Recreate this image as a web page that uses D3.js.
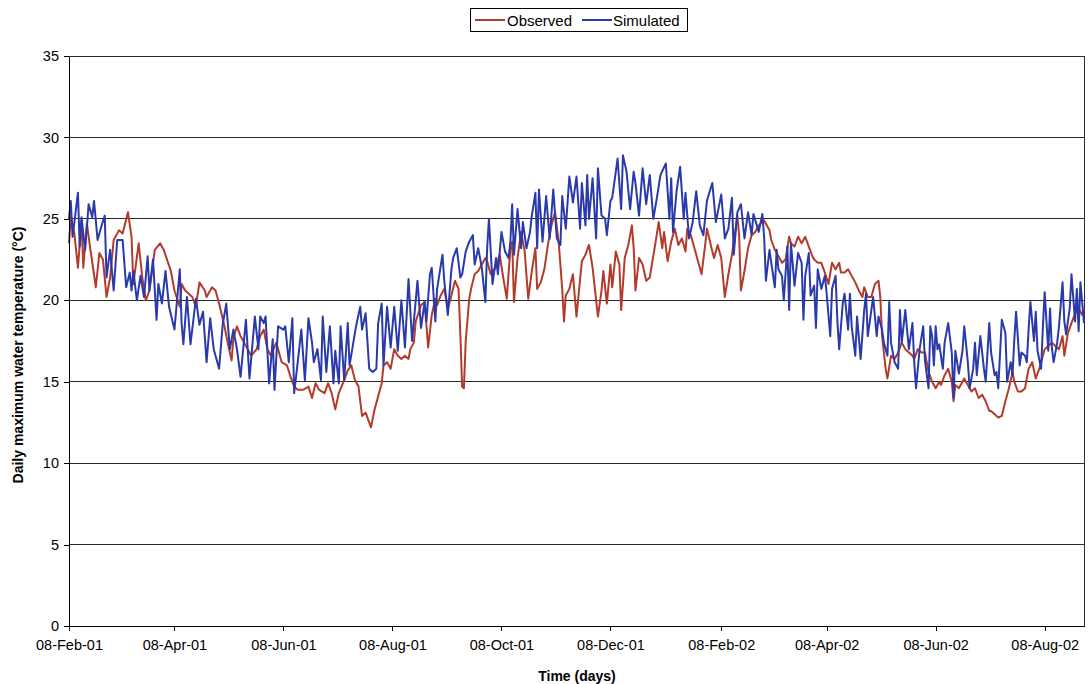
<!DOCTYPE html>
<html><head><meta charset="utf-8">
<script src="https://cdn.jsdelivr.net/npm/d3@7"></script>
<style>
body{margin:0;background:#fff}
text{font-family:"Liberation Sans",Arial,sans-serif;fill:#000}
</style>
</head><body>
<svg id="chart" width="1090" height="684"></svg>
<script>
const startDate = "2001-02-08";
const lastDay = 568;
const yTickValues = [0,5,10,15,20,25,30,35];
const xTickLabels = ["08-Feb-01","08-Apr-01","08-Jun-01","08-Aug-01","08-Oct-01","08-Dec-01","08-Feb-02","08-Apr-02","08-Jun-02","08-Aug-02"];
const seriesNames = ["Observed","Simulated"];
const xTitle = "Time (days)";
const yTitle = "Daily maximum water temperature (°C)";

// [day since 08-Feb-01, °C]
const observed = [[0,23.5],[1,25.1],[3,24.1],[5,22.0],[7,24.9],[8,22.0],[10,24.7],[12,23.1],[15,20.8],[17,22.9],[19,22.5],[21,20.2],[23,21.4],[25,23.7],[28,24.3],[30,24.1],[33,25.4],[35,23.9],[36,21.0],[39,23.5],[41,21.4],[43,20.0],[45,20.6],[48,23.1],[51,23.5],[53,23.1],[57,21.8],[59,20.6],[62,19.6],[63,21.0],[65,20.6],[67,20.4],[69,20.2],[71,19.6],[73,21.1],[76,20.6],[77,20.2],[80,20.8],[82,20.6],[84,19.8],[87,18.4],[89,17.3],[91,16.3],[92,17.7],[94,18.4],[96,17.8],[98,17.4],[102,16.6],[105,17.0],[107,17.8],[109,18.2],[111,17.0],[113,16.6],[116,17.4],[119,16.2],[122,16.0],[124,15.3],[126,14.7],[128,14.5],[131,14.5],[134,14.7],[136,14.0],[138,14.9],[140,14.5],[143,14.3],[145,14.9],[147,14.3],[149,13.3],[151,14.3],[154,15.1],[156,15.7],[158,16.0],[160,15.1],[162,14.7],[164,12.9],[166,13.1],[169,12.2],[171,13.3],[173,14.1],[175,14.9],[176,16.0],[178,16.2],[180,15.8],[182,17.0],[184,16.6],[186,16.4],[188,16.6],[190,16.4],[191,17.0],[193,17.4],[194,18.7],[197,19.7],[199,19.9],[201,17.1],[203,19.1],[205,20.1],[206,19.7],[208,20.3],[210,20.7],[212,19.5],[214,20.3],[216,21.2],[218,20.7],[219,17.9],[220,14.7],[221,14.6],[222,17.5],[224,20.1],[225,20.7],[227,21.6],[229,21.8],[231,22.2],[233,22.6],[234,22.4],[236,21.6],[237,21.8],[239,22.0],[241,22.8],[243,21.4],[245,20.1],[247,23.2],[248,23.6],[249,19.9],[251,22.6],[253,24.2],[255,23.0],[257,20.1],[259,21.8],[261,23.2],[262,20.7],[264,21.1],[266,21.9],[268,23.4],[270,24.6],[272,25.4],[274,23.6],[276,20.7],[277,18.7],[278,20.3],[280,20.7],[282,21.6],[284,19.0],[287,22.4],[289,22.8],[291,23.4],[293,22.0],[296,19.0],[298,20.6],[299,21.8],[301,19.8],[303,22.2],[304,20.8],[306,23.0],[308,22.2],[309,19.4],[311,22.6],[313,23.4],[315,24.6],[316,23.2],[317,20.6],[319,22.6],[321,22.2],[323,21.2],[325,21.4],[328,23.4],[330,24.8],[332,23.2],[333,24.2],[335,22.4],[337,23.6],[339,24.4],[341,23.4],[343,23.8],[345,23.0],[346,24.4],[348,24.0],[350,23.2],[352,22.4],[354,21.6],[356,23.4],[357,24.4],[360,23.0],[361,22.6],[363,23.4],[365,22.6],[367,20.2],[369,21.6],[371,22.8],[374,25.2],[375,24.0],[376,20.6],[378,21.8],[380,23.2],[382,24.0],[384,24.2],[386,24.6],[388,24.8],[389,24.9],[392,24.3],[393,23.7],[395,23.1],[397,22.7],[399,22.3],[401,22.5],[403,23.9],[404,23.5],[406,23.3],[408,23.9],[410,23.5],[412,23.9],[414,23.3],[416,22.7],[417,22.5],[419,22.3],[421,22.3],[423,21.7],[425,21.0],[427,22.3],[429,21.9],[431,22.3],[432,21.7],[434,21.7],[436,21.9],[438,21.5],[440,21.1],[442,20.6],[444,20.2],[445,20.8],[447,20.2],[449,20.2],[451,21.0],[453,21.2],[454,20.2],[455,17.8],[457,15.8],[458,15.2],[460,16.6],[462,16.4],[464,16.8],[466,17.4],[468,17.0],[470,16.8],[472,16.6],[473,16.4],[475,17.0],[477,16.8],[479,16.8],[481,15.6],[483,15.0],[485,14.6],[487,15.0],[488,14.8],[490,15.4],[492,15.8],[494,15.0],[495,13.8],[496,14.8],[498,14.6],[500,15.0],[501,15.2],[503,14.8],[505,14.4],[507,14.6],[509,14.0],[511,14.2],[513,13.8],[515,13.2],[516,13.2],[518,13.0],[520,12.8],[522,12.9],[524,13.8],[526,14.6],[528,15.6],[529,15.0],[531,14.4],[533,14.4],[535,14.6],[537,15.8],[539,16.2],[541,15.2],[543,15.8],[544,16.2],[546,17.0],[548,17.2],[550,17.4],[552,17.2],[554,17.0],[556,17.8],[557,16.6],[559,18.0],[561,18.6],[563,19.2],[565,19.5],[567,19.1],[568,19.5]];

const simulated = [[0,25.0],[1,26.1],[2,23.9],[5,26.6],[6,23.3],[7,25.1],[9,23.1],[11,25.9],[13,25.1],[14,26.1],[16,23.7],[18,24.5],[20,25.2],[21,21.4],[23,23.1],[25,20.6],[27,23.7],[30,23.7],[32,20.8],[34,21.7],[35,20.6],[36,21.8],[38,20.0],[40,21.5],[42,20.2],[44,22.7],[45,20.6],[47,22.5],[49,18.8],[50,21.0],[52,19.8],[54,21.8],[56,19.6],[59,18.2],[62,21.9],[63,18.6],[64,17.3],[66,20.2],[68,17.3],[71,20.1],[73,18.5],[75,19.3],[77,16.2],[79,18.9],[81,17.0],[84,15.8],[86,18.5],[88,19.8],[90,17.0],[92,18.2],[94,17.0],[96,15.3],[99,18.8],[101,15.2],[104,19.0],[106,17.0],[107,19.0],[109,18.6],[110,19.0],[112,14.9],[114,17.6],[115,14.5],[117,18.4],[120,18.2],[121,18.4],[123,16.2],[125,18.9],[126,14.3],[128,16.2],[130,18.2],[132,15.1],[134,18.9],[136,17.4],[137,16.2],[139,17.0],[141,15.1],[142,19.0],[144,15.6],[146,18.4],[148,14.9],[149,16.9],[151,14.9],[152,18.4],[154,15.1],[156,18.6],[157,16.0],[160,18.0],[161,18.6],[163,19.6],[164,18.2],[166,19.2],[168,15.8],[170,15.6],[172,15.8],[173,18.6],[175,19.8],[176,16.0],[178,19.6],[180,17.1],[182,19.6],[184,16.9],[186,20.0],[188,17.1],[190,21.3],[192,17.5],[195,21.2],[197,18.3],[199,19.9],[200,18.7],[202,21.6],[203,22.0],[205,18.7],[206,20.7],[209,22.8],[210,21.2],[212,19.1],[214,21.9],[215,22.6],[217,23.2],[219,21.4],[220,21.6],[222,23.0],[224,23.6],[226,24.0],[227,22.2],[229,23.2],[231,22.0],[233,19.9],[234,23.2],[235,25.0],[237,21.0],[239,22.6],[240,21.6],[242,24.2],[244,23.0],[246,22.6],[247,23.6],[248,25.9],[249,22.8],[251,25.6],[253,23.2],[254,24.8],[256,23.2],[258,24.2],[259,25.2],[261,26.6],[262,23.2],[263,26.8],[265,23.6],[267,26.4],[269,23.8],[271,26.8],[273,23.8],[275,23.4],[276,26.4],[278,24.4],[280,27.6],[282,26.0],[284,27.6],[286,24.4],[287,27.2],[289,24.6],[290,27.7],[291,25.0],[293,27.5],[295,23.8],[296,28.1],[298,25.2],[300,25.0],[301,24.0],[303,26.1],[304,26.3],[307,28.7],[309,25.6],[310,28.9],[312,27.9],[314,25.6],[316,27.9],[317,27.2],[319,25.2],[321,28.1],[323,25.9],[325,27.7],[327,25.0],[329,26.3],[331,27.7],[334,28.4],[336,25.0],[337,27.5],[338,24.2],[340,26.7],[342,28.2],[344,25.0],[345,26.6],[347,23.8],[349,24.8],[351,26.7],[353,24.6],[355,24.0],[357,26.1],[358,26.5],[360,27.2],[362,24.8],[365,26.5],[367,23.8],[369,24.4],[371,26.3],[372,22.8],[374,25.4],[376,25.9],[378,23.8],[380,25.4],[382,24.0],[383,25.3],[386,24.2],[388,25.3],[389,23.9],[390,21.2],[392,23.1],[393,22.3],[395,20.8],[396,23.1],[397,21.9],[399,21.5],[400,20.0],[402,23.3],[403,19.4],[404,23.5],[406,20.9],[408,22.9],[410,22.3],[411,18.8],[412,21.5],[414,22.9],[415,20.3],[417,20.9],[418,18.3],[419,21.9],[421,20.7],[423,21.5],[424,20.4],[426,17.8],[427,20.7],[429,21.5],[430,18.7],[431,17.0],[433,19.8],[434,20.4],[436,18.2],[437,20.4],[438,18.4],[440,16.6],[441,19.0],[443,16.4],[445,19.4],[446,20.4],[447,17.8],[449,19.4],[450,20.2],[452,17.8],[453,19.0],[455,18.2],[456,17.4],[458,16.6],[459,19.9],[460,17.4],[462,16.2],[464,15.8],[465,19.4],[466,17.4],[468,19.4],[470,17.0],[472,18.6],[473,16.2],[474,14.6],[476,17.0],[478,18.4],[479,16.3],[481,14.6],[482,18.4],[483,17.8],[484,16.0],[485,18.4],[486,17.0],[487,17.3],[489,15.8],[490,17.4],[492,18.6],[494,16.8],[495,14.0],[496,16.9],[498,15.5],[500,16.9],[501,18.4],[503,16.2],[504,14.6],[506,15.8],[507,17.4],[508,15.4],[510,17.8],[512,15.8],[513,15.0],[515,18.6],[516,16.8],[518,15.4],[519,15.6],[520,14.6],[522,18.8],[524,18.0],[525,15.0],[527,16.2],[528,15.4],[529,17.6],[530,19.3],[532,16.0],[533,16.8],[535,16.6],[536,16.2],[537,18.2],[538,19.9],[540,17.5],[541,19.3],[542,16.9],[544,15.8],[545,18.4],[546,20.5],[548,16.9],[549,19.5],[550,17.1],[551,16.2],[553,17.4],[554,18.4],[556,21.1],[557,18.7],[558,17.9],[560,19.5],[561,21.6],[563,18.7],[564,20.7],[565,18.1],[566,21.1],[568,18.6]];

const colors = {Observed:"#b33b2b", Simulated:"#2a3aab"};

const svg = d3.select("#chart");
const L = 69, R = 1084, T = 56, B = 626;
const t0 = d3.timeParse("%Y-%m-%d")(startDate);
const dayToDate = d => d3.timeDay.offset(t0, d);
const x = d3.scaleTime().domain([t0, dayToDate(lastDay)]).range([L, R]);
const y = d3.scaleLinear().domain([0, 35]).range([B, T]);
const parseTick = d3.timeParse("%d-%b-%y");
const tickDates = xTickLabels.map(parseTick);

// gridlines
svg.append("g").selectAll("line").data(yTickValues.filter(v => v > 0)).join("line")
  .attr("x1", L).attr("x2", R).attr("y1", d => y(d)).attr("y2", d => y(d))
  .attr("stroke", "#2a2a2a").attr("stroke-width", 1).attr("shape-rendering","crispEdges");
// right border
svg.append("line").attr("x1", R).attr("x2", R).attr("y1", T).attr("y2", B)
  .attr("stroke", "#2a2a2a").attr("stroke-width", 1).attr("shape-rendering","crispEdges");

// lines
const line = d3.line().x(d => x(dayToDate(d[0]))).y(d => y(d[1]));
svg.append("path").datum(observed).attr("d", line).attr("fill","none")
  .attr("stroke", colors.Observed).attr("stroke-width", 2).attr("stroke-linejoin","round");
svg.append("path").datum(simulated).attr("d", line).attr("fill","none")
  .attr("stroke", colors.Simulated).attr("stroke-width", 2).attr("stroke-linejoin","round");

// axes
const yAxis = svg.append("g").attr("transform", `translate(${L},0)`)
  .call(d3.axisLeft(y).tickValues(yTickValues).tickSize(5).tickSizeOuter(0).tickPadding(5));
const xAxis = svg.append("g").attr("transform", `translate(0,${B})`)
  .call(d3.axisBottom(x).tickValues(tickDates).tickFormat(d3.timeFormat("%d-%b-%y")).tickSize(5).tickSizeOuter(0).tickPadding(9));
[yAxis, xAxis].forEach(g => {
  g.selectAll("path").attr("stroke","#000").attr("shape-rendering","crispEdges");
  g.selectAll("line").attr("stroke","#000").attr("shape-rendering","crispEdges");
  g.selectAll("text").attr("font-size","14.5px").attr("font-family","'Liberation Sans',Arial,sans-serif").attr("fill","#000");
});

// titles
svg.append("text").attr("x", 577).attr("y", 681).attr("text-anchor","middle")
  .attr("font-size","14px").attr("font-weight","bold").text(xTitle);
svg.append("text").attr("transform","translate(23,355) rotate(-90)").attr("text-anchor","middle")
  .attr("font-size","14px").attr("font-weight","bold").text(yTitle);

// legend
const lg = svg.append("g");
lg.append("rect").attr("x",470.5).attr("y",8.5).attr("width",217).attr("height",23)
  .attr("fill","#fff").attr("stroke","#000").attr("stroke-width",1);
const legendPos = [{sx:475, tx:507},{sx:582, tx:613}];
seriesNames.forEach((n,i) => {
  lg.append("line").attr("x1",legendPos[i].sx).attr("x2",legendPos[i].sx+30).attr("y1",20).attr("y2",20)
    .attr("stroke",colors[n]).attr("stroke-width",2);
  lg.append("text").attr("x",legendPos[i].tx).attr("y",25.5).attr("font-size","15px").text(n);
});
</script>
</body></html>
